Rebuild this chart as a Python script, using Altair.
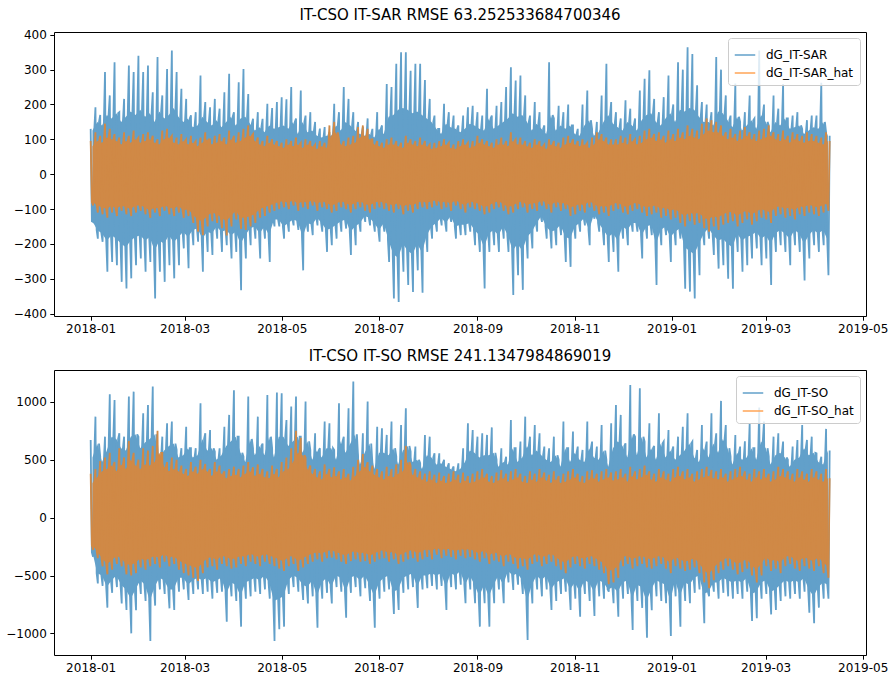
import altair as alt
import pandas as pd

# ---------------- data ----------------
START = "2018-01-01"
BIN_DAYS = 3            # one bin = 3 days, 155 bins; per bin: extreme high/low and dense-core high/low

NAMES_TOP = ["dG_IT-SAR", "dG_IT-SAR_hat"]
NAMES_BOT = ["dG_IT-SO", "dG_IT-SO_hat"]
TITLE_TOP = "IT-CSO IT-SAR RMSE 63.252533684700346"
TITLE_BOT = "IT-CSO IT-SO RMSE 241.1347984869019"

# ---- top panel, measured series (blue)
top_blue_hi = [130, 192, 170, 293, 226, 321, 178, 216, 312, 293,
               340, 293, 312, 235, 336, 226, 302, 355, 293, 245,
               216, 169, 178, 283, 207, 192, 216, 188, 235, 288,
               178, 264, 302, 230, 159, 178, 159, 202, 190, 207,
               221, 215, 250, 160, 240, 168, 178, 150, 131, 135,
               121, 202, 178, 250, 216, 178, 150, 135, 160, 130,
               178, 140, 259, 250, 317, 350, 350, 297, 317, 317,
               270, 216, 168, 130, 202, 178, 168, 140, 168, 192,
               196, 178, 168, 245, 168, 196, 207, 250, 307, 269,
               283, 226, 168, 207, 178, 140, 321, 160, 196, 178,
               200, 140, 130, 200, 240, 130, 150, 226, 317, 207,
               178, 160, 212, 188, 160, 240, 274, 298, 216, 178,
               221, 283, 200, 321, 300, 364, 345, 255, 207, 200,
               178, 336, 300, 226, 168, 260, 150, 178, 226, 160,
               355, 200, 140, 226, 188, 259, 160, 168, 178, 130,
               155, 168, 168, 262, 120]
top_blue_lo = [-137, -185, -194, -280, -252, -261, -309, -328, -299, -261,
               -242, -280, -252, -357, -280, -309, -261, -299, -261, -213,
               -270, -204, -194, -280, -223, -232, -185, -223, -204, -242,
               -223, -333, -242, -204, -185, -242, -185, -252, -150, -150,
               -185, -165, -147, -160, -276, -165, -175, -147, -165, -223,
               -204, -185, -165, -156, -232, -204, -165, -137, -147, -165,
               -194, -165, -252, -357, -367, -280, -318, -338, -276, -340,
               -223, -185, -165, -147, -165, -137, -185, -175, -175, -165,
               -204, -223, -328, -223, -204, -223, -185, -223, -347, -290,
               -332, -242, -213, -165, -137, -185, -213, -204, -175, -252,
               -266, -185, -165, -147, -204, -128, -165, -204, -252, -223,
               -280, -185, -204, -165, -165, -242, -185, -175, -318, -204,
               -175, -252, -204, -185, -329, -337, -357, -290, -204, -185,
               -232, -271, -261, -300, -329, -223, -280, -261, -242, -213,
               -261, -242, -318, -223, -204, -223, -261, -204, -223, -305,
               -242, -204, -223, -204, -290]
top_blue_core_hi = [125, 150, 140, 170, 160, 175, 150, 165, 180, 170,
                    185, 165, 175, 150, 180, 160, 170, 190, 165, 150,
                    160, 135, 140, 165, 150, 140, 155, 135, 150, 165,
                    140, 160, 165, 145, 125, 135, 120, 140, 130, 135,
                    140, 130, 150, 115, 150, 120, 125, 110, 105, 110,
                    110, 140, 125, 150, 140, 125, 115, 110, 115, 105,
                    130, 115, 165, 170, 185, 190, 185, 175, 180, 170,
                    160, 150, 130, 115, 145, 135, 130, 120, 130, 145,
                    140, 130, 125, 160, 130, 140, 150, 160, 175, 165,
                    170, 150, 125, 145, 130, 115, 170, 125, 140, 130,
                    140, 115, 110, 140, 155, 110, 120, 150, 170, 145,
                    135, 125, 150, 140, 125, 155, 170, 175, 150, 140,
                    160, 175, 150, 185, 180, 190, 185, 165, 150, 150,
                    140, 180, 175, 155, 135, 165, 125, 140, 155, 130,
                    170, 150, 120, 150, 140, 160, 130, 135, 140, 115,
                    125, 135, 130, 150, 110]
top_blue_core_lo = [-135, -160, -170, -190, -175, -185, -200, -210, -190, -180,
                    -175, -190, -180, -220, -190, -200, -175, -195, -180, -165,
                    -180, -160, -155, -185, -165, -170, -150, -165, -160, -175,
                    -165, -200, -175, -155, -150, -170, -150, -175, -130, -130,
                    -150, -140, -130, -135, -180, -140, -145, -125, -140, -160,
                    -155, -145, -135, -130, -165, -150, -140, -120, -125, -140,
                    -160, -140, -190, -230, -240, -200, -220, -230, -200, -225,
                    -175, -150, -140, -125, -140, -120, -150, -145, -145, -140,
                    -160, -175, -210, -170, -160, -175, -150, -175, -220, -200,
                    -220, -180, -165, -140, -120, -150, -165, -160, -145, -180,
                    -185, -150, -140, -125, -160, -115, -140, -160, -180, -170,
                    -190, -150, -160, -140, -140, -175, -150, -145, -200, -160,
                    -150, -180, -165, -155, -210, -220, -230, -200, -170, -155,
                    -175, -190, -185, -200, -210, -170, -190, -180, -175, -165,
                    -185, -175, -200, -170, -160, -170, -185, -160, -170, -200,
                    -175, -160, -170, -160, -190]
# ---- top panel, predicted series (orange)
top_orange_hi = [95, 120, 110, 145, 130, 115, 105, 120, 110, 125,
                 105, 115, 120, 110, 100, 125, 130, 110, 105, 115,
                 100, 110, 95, 105, 120, 100, 110, 115, 105, 125,
                 110, 120, 130, 140, 115, 105, 95, 110, 100, 95,
                 90, 100, 95, 105, 90, 100, 95, 85, 95, 90,
                 140, 150, 100, 95, 105, 110, 135, 140, 130, 100,
                 95, 90, 100, 105, 95, 90, 110, 100, 95, 105,
                 95, 85, 90, 95, 100, 90, 85, 95, 100, 90,
                 95, 110, 100, 95, 90, 100, 105, 95, 120, 100,
                 105, 95, 90, 100, 95, 85, 100, 95, 90, 105,
                 110, 100, 95, 100, 90, 105, 120, 115, 105, 100,
                 100, 110, 105, 115, 100, 110, 125, 130, 115, 120,
                 110, 125, 115, 130, 120, 140, 130, 125, 145, 160,
                 155, 150, 140, 120, 130, 115, 125, 135, 120, 115,
                 125, 130, 140, 120, 115, 125, 110, 120, 115, 110,
                 120, 115, 110, 105, 120]
top_orange_lo = [-90, -110, -115, -125, -110, -120, -105, -115, -120, -110,
                 -105, -115, -125, -110, -120, -105, -115, -120, -110, -125,
                 -120, -140, -165, -175, -150, -135, -140, -155, -176, -150,
                 -130, -157, -160, -150, -140, -125, -120, -110, -105, -100,
                 -95, -100, -90, -105, -95, -100, -90, -105, -95, -100,
                 -110, -105, -95, -100, -110, -100, -95, -105, -110, -100,
                 -95, -100, -105, -110, -100, -115, -105, -110, -100, -95,
                 -100, -95, -90, -100, -95, -105, -90, -100, -110, -95,
                 -100, -105, -115, -110, -100, -95, -105, -115, -110, -100,
                 -95, -110, -100, -105, -90, -100, -110, -95, -105, -100,
                 -120, -115, -105, -110, -95, -105, -115, -110, -120, -105,
                 -100, -110, -115, -105, -100, -110, -120, -115, -110, -125,
                 -120, -130, -125, -140, -150, -135, -145, -140, -155, -165,
                 -150, -160, -145, -140, -135, -150, -140, -130, -145, -135,
                 -125, -130, -140, -120, -115, -125, -120, -130, -115, -120,
                 -110, -115, -120, -110, -105]
top_orange_core_hi = [80, 95, 90, 105, 100, 95, 85, 95, 90, 100,
                      90, 95, 100, 90, 85, 100, 105, 90, 85, 95,
                      85, 90, 80, 90, 100, 85, 90, 95, 85, 100,
                      90, 95, 105, 110, 95, 85, 80, 90, 85, 80,
                      75, 85, 80, 85, 75, 85, 80, 72, 80, 75,
                      110, 120, 85, 80, 85, 90, 105, 110, 100, 85,
                      80, 75, 85, 85, 80, 75, 90, 85, 80, 85,
                      80, 72, 75, 80, 85, 75, 72, 80, 85, 75,
                      80, 90, 85, 80, 75, 85, 85, 80, 95, 85,
                      85, 80, 75, 85, 80, 72, 85, 80, 75, 85,
                      90, 85, 80, 85, 75, 85, 100, 95, 85, 85,
                      85, 90, 85, 95, 85, 90, 100, 105, 95, 100,
                      90, 100, 95, 105, 100, 110, 105, 100, 115, 125,
                      120, 120, 110, 100, 105, 95, 100, 110, 100, 95,
                      100, 105, 110, 100, 95, 100, 90, 100, 95, 90,
                      95, 95, 90, 85, 95]
top_orange_core_lo = [-80, -90, -95, -100, -90, -100, -90, -95, -100, -90,
                      -90, -95, -105, -95, -100, -90, -95, -100, -90, -105,
                      -100, -115, -130, -135, -120, -110, -115, -125, -135, -120,
                      -105, -125, -125, -120, -115, -100, -95, -90, -85, -80,
                      -78, -82, -75, -85, -78, -82, -75, -85, -78, -82,
                      -90, -85, -78, -82, -90, -82, -78, -85, -90, -82,
                      -78, -82, -85, -90, -82, -95, -85, -90, -82, -78,
                      -82, -78, -75, -82, -78, -85, -75, -82, -90, -78,
                      -82, -85, -95, -90, -82, -78, -85, -95, -90, -82,
                      -78, -90, -82, -85, -75, -82, -90, -78, -85, -82,
                      -95, -92, -85, -90, -78, -85, -95, -90, -95, -85,
                      -82, -90, -95, -85, -82, -90, -95, -92, -90, -100,
                      -95, -105, -100, -110, -120, -110, -115, -110, -125, -130,
                      -120, -125, -115, -110, -108, -120, -110, -105, -115, -108,
                      -100, -105, -110, -95, -92, -100, -95, -105, -92, -95,
                      -88, -92, -95, -88, -85]

# ---- bottom panel, measured series (blue)
bot_blue_hi = [672, 873, 527, 700, 1067, 1017, 729, 700, 1046, 1089,
               700, 902, 974, 1133, 585, 700, 815, 830, 585, 600,
               786, 600, 600, 988, 729, 758, 570, 600, 786, 888,
               1100, 700, 527, 1046, 600, 873, 640, 1060, 600, 1081,
               1075, 844, 960, 1046, 700, 1003, 585, 729, 600, 830,
               815, 585, 988, 700, 945, 1176, 527, 729, 1003, 470,
               786, 772, 715, 830, 527, 801, 945, 570, 614, 470,
               715, 700, 556, 556, 500, 470, 442, 470, 600, 815,
               758, 700, 729, 715, 780, 500, 600, 527, 844, 600,
               657, 873, 700, 801, 729, 614, 600, 700, 500, 830,
               600, 744, 614, 585, 830, 657, 614, 801, 500, 815,
               974, 888, 642, 1147, 700, 1118, 657, 815, 620, 902,
               658, 758, 614, 700, 786, 902, 657, 585, 801, 657,
               902, 729, 1009, 800, 527, 715, 614, 660, 815, 600,
               951, 830, 527, 700, 729, 657, 500, 614, 670, 801,
               672, 700, 556, 527, 767]
bot_blue_lo = [-337, -568, -590, -778, -650, -600, -741, -798, -1000, -800,
               -660, -720, -1066, -760, -620, -660, -784, -798, -640, -620,
               -712, -660, -620, -660, -640, -700, -650, -640, -899, -680,
               -720, -942, -700, -680, -640, -660, -620, -700, -1066, -965,
               -942, -660, -600, -640, -712, -741, -680, -951, -700, -650,
               -741, -600, -640, -865, -650, -600, -680, -610, -720, -951,
               -700, -640, -620, -833, -798, -650, -620, -600, -780, -620,
               -610, -590, -620, -590, -798, -600, -620, -580, -740, -620,
               -740, -942, -740, -942, -740, -620, -740, -560, -625, -580,
               -660, -1058, -741, -620, -680, -620, -798, -720, -660, -640,
               -798, -700, -856, -660, -720, -850, -680, -700, -640, -740,
               -856, -700, -660, -971, -720, -780, -1037, -800, -680, -720,
               -740, -1023, -680, -942, -720, -740, -650, -620, -913, -680,
               -640, -700, -650, -680, -700, -660, -700, -640, -893, -870,
               -700, -660, -836, -798, -720, -680, -700, -660, -700, -640,
               -822, -913, -778, -700, -700]
bot_blue_core_hi = [520, 640, 480, 580, 700, 680, 600, 580, 700, 720,
                    600, 650, 680, 720, 520, 580, 620, 640, 520, 540,
                    600, 520, 540, 680, 580, 600, 500, 540, 620, 660,
                    700, 560, 480, 680, 540, 620, 540, 700, 520, 700,
                    700, 620, 660, 700, 560, 660, 500, 580, 520, 600,
                    600, 500, 660, 560, 640, 720, 460, 560, 640, 420,
                    560, 560, 540, 600, 460, 580, 620, 480, 500, 420,
                    540, 520, 460, 470, 440, 420, 400, 420, 480, 580,
                    560, 520, 540, 540, 560, 440, 480, 460, 600, 480,
                    520, 620, 540, 580, 540, 500, 480, 540, 440, 600,
                    480, 560, 500, 480, 600, 520, 500, 580, 440, 600,
                    660, 620, 520, 720, 540, 700, 520, 600, 500, 640,
                    520, 580, 500, 540, 580, 640, 520, 480, 600, 520,
                    640, 560, 680, 600, 460, 560, 500, 520, 600, 500,
                    660, 600, 460, 540, 560, 520, 440, 500, 520, 600,
                    540, 560, 480, 460, 580]
bot_blue_core_lo = [-300, -480, -500, -600, -540, -500, -580, -620, -700, -620,
                    -540, -580, -720, -600, -520, -540, -620, -620, -520, -520,
                    -580, -540, -520, -540, -520, -560, -540, -520, -660, -560,
                    -580, -680, -560, -540, -520, -540, -500, -560, -720, -700,
                    -680, -540, -500, -520, -580, -600, -540, -680, -560, -520,
                    -600, -500, -520, -640, -520, -500, -540, -500, -580, -680,
                    -560, -520, -500, -640, -620, -520, -500, -480, -600, -500,
                    -500, -480, -500, -480, -600, -480, -500, -460, -580, -500,
                    -580, -680, -580, -680, -580, -500, -580, -460, -500, -480,
                    -540, -720, -580, -500, -540, -500, -620, -560, -540, -520,
                    -620, -560, -640, -540, -560, -640, -540, -560, -620, -600,
                    -640, -560, -540, -700, -580, -600, -720, -620, -540, -560,
                    -580, -720, -540, -680, -560, -580, -520, -500, -660, -640,
                    -560, -560, -520, -540, -560, -540, -560, -520, -660, -640,
                    -560, -540, -640, -620, -580, -540, -560, -540, -560, -520,
                    -620, -680, -600, -560, -580]
# ---- bottom panel, predicted series (orange)
bot_orange_hi = [380, 420, 490, 520, 560, 480, 600, 520, 663, 560,
                 500, 600, 580, 620, 750, 560, 480, 520, 500, 450,
                 420, 480, 440, 500, 464, 420, 480, 450, 400, 420,
                 440, 420, 450, 480, 435, 460, 420, 400, 450, 420,
                 480, 520, 600, 750, 690, 520, 450, 420, 400, 460,
                 420, 435, 400, 420, 380, 440, 500, 550, 480, 450,
                 420, 400, 440, 420, 460, 500, 620, 450, 420, 400,
                 380, 400, 370, 390, 360, 380, 400, 370, 390, 360,
                 380, 400, 420, 380, 360, 390, 410, 380, 400, 420,
                 380, 360, 400, 380, 420, 390, 370, 400, 360, 380,
                 400, 420, 380, 360, 400, 410, 380, 400, 420, 390,
                 400, 420, 380, 440, 400, 420, 450, 400, 380, 420,
                 400, 380, 420, 440, 400, 420, 380, 400, 420, 440,
                 412, 400, 420, 380, 400, 420, 440, 400, 380, 420,
                 400, 420, 380, 400, 440, 420, 400, 380, 420, 400,
                 380, 420, 400, 380, 420]
bot_orange_lo = [-280, -350, -420, -490, -450, -400, -420, -490, -500, -480,
                 -430, -450, -420, -400, -430, -380, -420, -400, -450, -480,
                 -500, -520, -547, -480, -430, -420, -450, -400, -420, -440,
                 -430, -400, -420, -380, -400, -420, -380, -400, -420, -440,
                 -460, -420, -400, -460, -430, -400, -380, -360, -380, -350,
                 -345, -360, -380, -400, -375, -360, -380, -375, -400, -380,
                 -360, -350, -380, -360, -400, -380, -360, -350, -380, -360,
                 -340, -360, -320, -350, -330, -340, -360, -330, -350, -340,
                 -360, -380, -350, -400, -370, -380, -420, -380, -400, -440,
                 -420, -450, -400, -380, -420, -400, -380, -420, -450, -480,
                 -430, -400, -420, -440, -400, -420, -450, -480, -575, -560,
                 -520, -420, -400, -440, -420, -400, -430, -440, -420, -400,
                 -440, -480, -420, -440, -460, -450, -430, -480, -560, -610,
                 -540, -480, -450, -420, -450, -490, -470, -440, -500, -560,
                 -500, -420, -460, -440, -480, -420, -400, -440, -460, -420,
                 -440, -460, -420, -480, -520]
bot_orange_core_hi = [300, 350, 400, 420, 450, 400, 460, 420, 500, 450,
                      420, 460, 450, 480, 560, 440, 400, 420, 400, 380,
                      360, 400, 380, 420, 400, 360, 400, 380, 340, 360,
                      370, 350, 380, 400, 360, 380, 350, 340, 380, 350,
                      400, 420, 480, 560, 540, 420, 380, 350, 330, 380,
                      350, 360, 330, 350, 320, 360, 400, 440, 400, 370,
                      350, 330, 360, 350, 380, 400, 480, 370, 350, 330,
                      310, 330, 300, 320, 300, 310, 330, 300, 320, 300,
                      310, 330, 350, 310, 300, 320, 340, 310, 330, 350,
                      310, 300, 330, 310, 350, 320, 300, 330, 300, 310,
                      330, 350, 310, 300, 330, 340, 310, 330, 350, 320,
                      330, 350, 310, 360, 330, 350, 370, 330, 310, 350,
                      330, 310, 350, 360, 330, 350, 310, 330, 350, 360,
                      340, 330, 350, 310, 330, 350, 360, 330, 310, 350,
                      330, 350, 310, 330, 360, 350, 330, 310, 350, 330,
                      310, 350, 330, 310, 340]
bot_orange_core_lo = [-240, -290, -350, -400, -370, -330, -350, -400, -410, -390,
                      -350, -370, -350, -330, -350, -310, -350, -330, -370, -390,
                      -410, -420, -440, -390, -350, -340, -370, -330, -340, -360,
                      -350, -330, -340, -310, -330, -340, -310, -330, -340, -360,
                      -380, -340, -330, -380, -350, -330, -310, -300, -310, -290,
                      -280, -300, -310, -330, -300, -290, -310, -300, -330, -310,
                      -290, -280, -310, -290, -330, -310, -290, -280, -310, -290,
                      -270, -290, -260, -280, -270, -270, -290, -270, -280, -270,
                      -290, -310, -280, -330, -300, -310, -340, -310, -330, -360,
                      -340, -370, -330, -310, -340, -330, -310, -340, -370, -390,
                      -350, -330, -340, -360, -330, -340, -370, -390, -460, -450,
                      -420, -340, -330, -360, -340, -330, -350, -360, -340, -330,
                      -360, -390, -340, -360, -380, -370, -350, -390, -450, -490,
                      -440, -390, -370, -340, -370, -400, -380, -360, -410, -450,
                      -400, -340, -380, -360, -390, -340, -330, -360, -380, -340,
                      -360, -380, -340, -390, -420]

TOP_Y_DOMAIN = [-407, 408]
TOP_Y_TICKS = [-400, -300, -200, -100, 0, 100, 200, 300, 400]
BOT_Y_DOMAIN = [-1187, 1276]
BOT_Y_TICKS = [-1000, -500, 0, 500, 1000]
X_TICK_MONTHS = [(2018, 1), (2018, 3), (2018, 5), (2018, 7), (2018, 9),
                 (2018, 11), (2019, 1), (2019, 3), (2019, 5)]

# ---------------- styling ----------------
BLUE = "#62a0ca"        # tab:blue at alpha 0.7 over white
ORANGE = "#d08946"      # tab:orange at alpha 0.7 over the blue
LEG_BLUE = "#62a0ca"
LEG_ORANGE = "#ffa556"
FONT = "DejaVu Sans"

start = pd.Timestamp(START)


def trace(hi, core_lo, lo, core_hi):
    """Line through each bin: extreme high, core low, extreme low, core high."""
    rows = []
    for i in range(len(hi)):
        base = BIN_DAYS * i
        for off, v in ((0.0, hi[i]), (0.75, core_lo[i]), (1.5, lo[i]), (2.25, core_hi[i])):
            rows.append({"date": start + pd.Timedelta(days=base + off), "value": v})
    return pd.DataFrame(rows)


def core(hi, core_lo, lo, core_hi):
    """Dense core band of each bin."""
    return pd.DataFrame({
        "date": [start + pd.Timedelta(days=BIN_DAYS * i + 1.125) for i in range(len(hi))],
        "lo": core_lo, "hi": core_hi})


x_scale = alt.Scale(domain=[alt.DateTime(year=2017, month=12, date=8, hours=23),
                            alt.DateTime(year=2019, month=5, date=3, hours=2)])
x_axis = alt.Axis(values=[alt.DateTime(year=y, month=m, date=1) for y, m in X_TICK_MONTHS],
                  format="%Y-%m", labelAngle=0, labelFlush=False, labelOverlap=False)


def panel(title, names, blue, orange, ydom, yticks, h):
    y_scale = alt.Scale(domain=ydom, nice=False, zero=False)
    y_axis = alt.Axis(values=yticks, format="d")
    X = alt.X("date:T", scale=x_scale, axis=x_axis, title=None)
    Y = alt.Y("value:Q", scale=y_scale, axis=y_axis, title=None)
    Ylo = alt.Y("lo:Q", scale=y_scale, axis=y_axis, title=None)

    layers = []
    for series, color in ((blue, BLUE), (orange, ORANGE)):
        layers.append(alt.Chart(core(*series)).mark_area(color=color, opacity=1).encode(
            x=X, y=Ylo, y2="hi:Q"))
        layers.append(alt.Chart(trace(*series)).mark_line(color=color, strokeWidth=1.8).encode(
            x=X, y=Y))
    leg_df = pd.DataFrame({"date": [start, start], "value": [99999, 99999], "series": names})
    layers.append(alt.Chart(leg_df).mark_line(clip=True, strokeWidth=1.5).encode(
        x=X, y=Y,
        color=alt.Color("series:N",
                        scale=alt.Scale(domain=names, range=[LEG_BLUE, LEG_ORANGE]),
                        title=None,
                        legend=alt.Legend(orient="top-right", offset=6, padding=6,
                                          fillColor="rgba(255,255,255,0.8)",
                                          strokeColor="#cccccc", cornerRadius=3,
                                          symbolType="stroke", symbolSize=420,
                                          symbolStrokeWidth=1.5, labelFontSize=12,
                                          labelFont=FONT, labelColor="black",
                                          labelOffset=10, rowPadding=1))))
    return alt.layer(*layers).properties(
        width=812, height=h,
        title=alt.TitleParams(text=title, fontSize=15, font=FONT, fontWeight="normal",
                              color="black", offset=6, anchor="middle"))


top = panel(TITLE_TOP, NAMES_TOP,
            (top_blue_hi, top_blue_core_lo, top_blue_lo, top_blue_core_hi),
            (top_orange_hi, top_orange_core_lo, top_orange_lo, top_orange_core_hi),
            TOP_Y_DOMAIN, TOP_Y_TICKS, 284)
bot = panel(TITLE_BOT, NAMES_BOT,
            (bot_blue_hi, bot_blue_core_lo, bot_blue_lo, bot_blue_core_hi),
            (bot_orange_hi, bot_orange_core_lo, bot_orange_lo, bot_orange_core_hi),
            BOT_Y_DOMAIN, BOT_Y_TICKS, 285)

chart = alt.vconcat(top, bot, spacing=12).resolve_scale(
    x="independent", y="independent", color="independent"
).resolve_legend(color="independent").properties(
    padding={"left": 5, "top": 7, "right": 0, "bottom": 0},
    background="white",
).configure(font=FONT).configure_view(
    stroke="black", strokeWidth=1
).configure_axis(
    grid=False, domain=False, ticks=True, tickSize=4.2, tickColor="black", tickWidth=1,
    labelFont=FONT, labelFontSize=12, labelColor="black", labelPadding=3.5
)

chart.save("out.html", embed_options={"renderer": "svg", "actions": False})
